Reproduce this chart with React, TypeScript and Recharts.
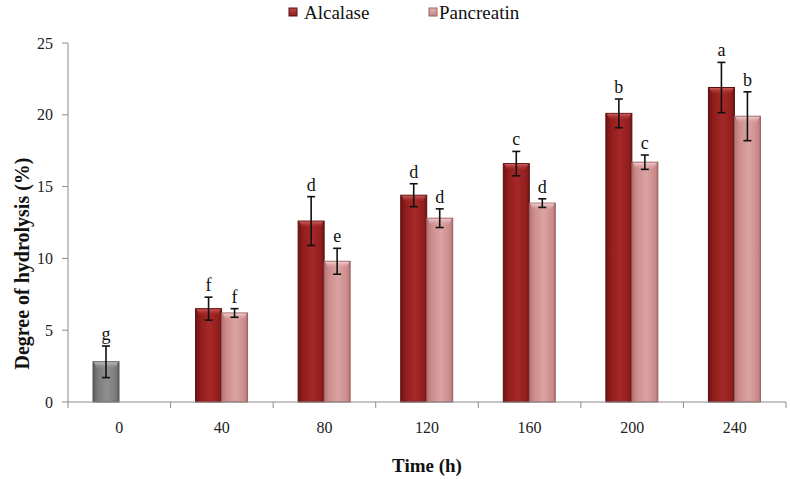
import React from "react";
import {
  BarChart,
  Bar,
  XAxis,
  YAxis,
  Legend,
  ErrorBar,
  LabelList,
  Cell,
  Label,
} from "recharts";

// time points (h)
const categories = ["0", "40", "80", "120", "160", "200", "240"];

// degree of hydrolysis (%)
const alcalase = [2.8, 6.5, 12.6, 14.4, 16.6, 20.1, 21.9];
const alcalaseErr = [1.1, 0.8, 1.7, 0.8, 0.85, 1.0, 1.75];
const alcalaseLetters = ["g", "f", "d", "d", "c", "b", "a"];

const pancreatin = [null, 6.2, 9.8, 12.8, 13.85, 16.7, 19.9];
const pancreatinErr = [null, 0.3, 0.9, 0.65, 0.3, 0.5, 1.7];
const pancreatinLetters = ["", "f", "e", "d", "d", "c", "b"];

const yTicks = [0, 5, 10, 15, 20, 25];

const data = categories.map((c, i) => ({
  time: c,
  alcalase: alcalase[i],
  alcalaseErr: alcalaseErr[i],
  alcalaseLetter: alcalaseLetters[i],
  pancreatin: pancreatin[i],
  pancreatinErr: pancreatinErr[i],
  pancreatinLetter: pancreatinLetters[i],
}));

const FONT = "Liberation Serif, Times New Roman, serif";
const AXIS = "#8c8c8c";

// bar with a cylinder-ish shading and a light bevel on top
const Bar3D = (grad: string, cap: string, edge: string) => (props: any) => {
  const { x, y, width, height, index } = props;
  if (height == null || height <= 0) return null;
  const ctl = index === 0 && grad === "alc";
  const g = ctl ? "ctl" : grad;
  const c = ctl ? "capCtl" : cap;
  const e = ctl ? "#555" : edge;
  const ch = Math.min(7, height);
  return (
    <g>
      <rect x={x} y={y} width={width} height={height} fill={`url(#${g})`} stroke={e} strokeWidth={1} />
      <polygon
        points={`${x + 1},${y + 0.5} ${x + width - 1},${y + 0.5} ${x + width - 4},${y + ch} ${x + 4},${y + ch}`}
        fill={`url(#${c})`}
      />
    </g>
  );
};

// value packed as "mean|err|letter" so the label can sit above the error bar
const packer = (key: "alcalase" | "pancreatin") => (d: any) =>
  d[key] == null ? null : `${d[key]}|${d[key + "Err"] || 0}|${d[key + "Letter"] || ""}`;

const LetterLabel = (props: any) => {
  const { x, y, width, height, value } = props;
  if (value == null) return null;
  const [m, e, letter] = String(value).split("|");
  const mean = Number(m);
  if (!letter || !mean) return null;
  const pxPer = height / mean;
  const top = y - Number(e) * pxPer;
  return (
    <text x={x + width / 2} y={top - 6} textAnchor="middle" fontFamily={FONT} fontSize={18} fill="#111">
      {letter}
    </text>
  );
};

const XTick = (props: any) => {
  const { x, y, payload, index } = props;
  const half = payload && payload.offset ? payload.offset : 718 / 7 / 2;
  const axisY = y - 20;
  return (
    <g>
      <line x1={x - half} y1={axisY} x2={x - half} y2={axisY + 6} stroke={AXIS} />
      {index === categories.length - 1 && (
        <line x1={x + half} y1={axisY} x2={x + half} y2={axisY + 6} stroke={AXIS} />
      )}
      <text x={x} y={y} dy="0.71em" textAnchor="middle" fontFamily={FONT} fontSize={16} fill="#222">
        {payload.value}
      </text>
    </g>
  );
};

const YTitle = (props: any) => {
  const { viewBox } = props;
  const cx = 22;
  const cy = viewBox.y + viewBox.height / 2 + 41;
  return (
    <text
      x={cx}
      y={cy}
      transform={`rotate(-90 ${cx} ${cy})`}
      textAnchor="middle"
      dominantBaseline="central"
      fontFamily={FONT}
      fontWeight="bold"
      fontSize={20}
      fill="#111"
    >
      Degree of hydrolysis (%)
    </text>
  );
};

// legend drawn as svg so it uses the same serif font as the axes
const LegendBox = () => (
  <svg width={790} height={26} style={{ display: "block" }}>
    <rect x={289} y={8} width={8} height={8} fill="url(#legAlc)" stroke="#5a0f0f" />
    <text x={304} y={19} fontFamily={FONT} fontSize={19} fill="#111">Alcalase</text>
    <rect x={429} y={8} width={8} height={8} fill="url(#legPan)" stroke="#9a6060" />
    <text x={439} y={19} fontFamily={FONT} fontSize={19} fill="#111">Pancreatin</text>
    <defs>
      <linearGradient id="legAlc" x1="0" y1="0" x2="0" y2="1">
        <stop offset="0%" stopColor="#c24a4a" />
        <stop offset="100%" stopColor="#8b1c1c" />
      </linearGradient>
      <linearGradient id="legPan" x1="0" y1="0" x2="0" y2="1">
        <stop offset="0%" stopColor="#e6b4b4" />
        <stop offset="100%" stopColor="#c48484" />
      </linearGradient>
    </defs>
  </svg>
);

export default function App() {
  return (
    <div style={{ position: "absolute", left: 0, top: 0, width: 790, height: 479, background: "#fff" }}>
      <BarChart
        width={790}
        height={479}
        data={data}
        margin={{ top: 43, right: 4, bottom: 0, left: 8 }}
        barGap={0}
      >
        <defs>
          <linearGradient id="alc" x1="0" y1="0" x2="1" y2="0">
            <stop offset="0%" stopColor="#701212" />
            <stop offset="20%" stopColor="#921d1d" />
            <stop offset="55%" stopColor="#a62828" />
            <stop offset="90%" stopColor="#8f1e1e" />
            <stop offset="100%" stopColor="#6a1111" />
          </linearGradient>
          <linearGradient id="capAlc" x1="0" y1="0" x2="0" y2="1">
            <stop offset="0%" stopColor="#cc5c5c" />
            <stop offset="100%" stopColor="#a62828" stopOpacity={0} />
          </linearGradient>
          <linearGradient id="pan" x1="0" y1="0" x2="1" y2="0">
            <stop offset="0%" stopColor="#b77474" />
            <stop offset="20%" stopColor="#cc8e8d" />
            <stop offset="55%" stopColor="#daa3a2" />
            <stop offset="90%" stopColor="#c98a89" />
            <stop offset="100%" stopColor="#b06f6f" />
          </linearGradient>
          <linearGradient id="capPan" x1="0" y1="0" x2="0" y2="1">
            <stop offset="0%" stopColor="#f0cccc" />
            <stop offset="100%" stopColor="#daa3a2" stopOpacity={0} />
          </linearGradient>
          <linearGradient id="ctl" x1="0" y1="0" x2="1" y2="0">
            <stop offset="0%" stopColor="#5e5e5e" />
            <stop offset="20%" stopColor="#7c7c7c" />
            <stop offset="55%" stopColor="#909090" />
            <stop offset="90%" stopColor="#787878" />
            <stop offset="100%" stopColor="#5a5a5a" />
          </linearGradient>
          <linearGradient id="capCtl" x1="0" y1="0" x2="0" y2="1">
            <stop offset="0%" stopColor="#bdbdbd" />
            <stop offset="100%" stopColor="#909090" stopOpacity={0} />
          </linearGradient>
        </defs>
        <Legend
          verticalAlign="middle"
          content={<LegendBox />}
          wrapperStyle={{ position: "absolute", top: 0, left: 0, width: 790 }}
        />
        <XAxis
          dataKey="time"
          height={77}
          stroke={AXIS}
          tickLine={false}
          tickSize={6}
          tickMargin={14}
          tick={<XTick />}
          interval={0}
        >
          <Label value="Time (h)" position="insideBottom" offset={7} fontFamily={FONT} fontWeight="bold" fontSize={19} fill="#111" />
        </XAxis>
        <YAxis
          width={60}
          domain={[0, 25]}
          ticks={yTicks}
          stroke={AXIS}
          tickSize={6}
          tickMargin={9}
          tick={{ fontFamily: FONT, fontSize: 16, fill: "#222" }}
          label={<YTitle />}
        />
        <Bar dataKey="alcalase" name="Alcalase" barSize={26} isAnimationActive={false} shape={Bar3D("alc", "capAlc", "#5a0f0f")}>
          {data.map((d, i) => (
            <Cell key={d.time} fill={i === 0 ? "#808080" : "#9b2626"} />
          ))}
          <ErrorBar dataKey="alcalaseErr" width={4} stroke="#111" strokeWidth={1.6} />
          <LabelList dataKey={packer("alcalase")} content={<LetterLabel />} />
        </Bar>
        <Bar dataKey="pancreatin" name="Pancreatin" barSize={26} isAnimationActive={false} shape={Bar3D("pan", "capPan", "#9a6060")}>
          <ErrorBar dataKey="pancreatinErr" width={4} stroke="#111" strokeWidth={1.6} />
          <LabelList dataKey={packer("pancreatin")} content={<LetterLabel />} />
        </Bar>
      </BarChart>
    </div>
  );
}
